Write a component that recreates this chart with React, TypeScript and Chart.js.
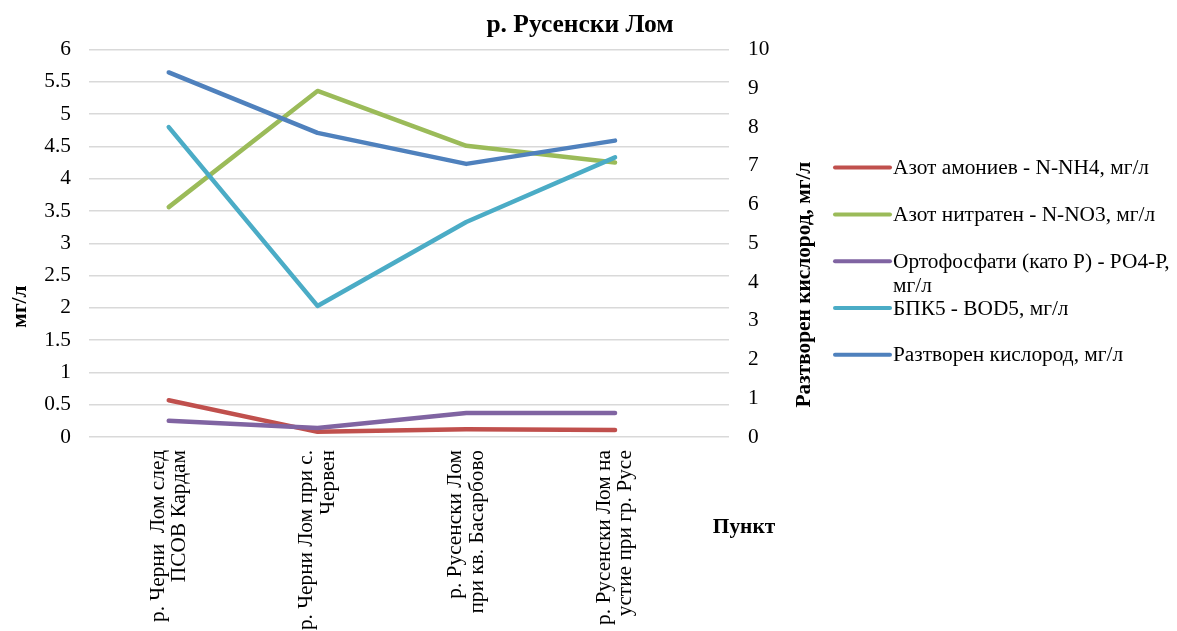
import React, { useEffect, useRef } from 'react';
import { Chart, registerables } from 'chart.js';

Chart.register(...registerables);

const chartTitle = 'р. Русенски Лом';
const stations: string[][] = [
  ['р. Черни  Лом след', 'ПСОВ Кардам'],
  ['р. Черни Лом при с.', 'Червен'],
  ['р. Русенски Лом', 'при кв. Басарбово'],
  ['р. Русенски Лом на', 'устие при гр. Русе'],
];
const ammonium = [0.57, 0.08, 0.12, 0.11];
const nitrate = [3.56, 5.36, 4.51, 4.25];
const phosphate = [0.25, 0.14, 0.37, 0.37];
const bod5 = [4.8, 2.03, 3.33, 4.33];
const oxygen = [9.41, 7.85, 7.05, 7.65];

const seriesNames = [
  'Азот амониев - N-NH4, мг/л',
  'Азот нитратен - N-NO3, мг/л',
  'Ортофосфати (като Р) - РО4-Р,\nмг/л',
  'БПК5 - BOD5, мг/л',
  'Разтворен кислород, мг/л',
];
const seriesColors = ['#C0504D', '#9BBB59', '#8064A2', '#4BACC6', '#4F81BD'];
const leftAxisTitle = 'мг/л';
const rightAxisTitle = 'Разтворен кислород, мг/л';
const xAxisTitle = 'Пункт';

const FONT = "'Liberation Serif', 'Times New Roman', serif";
const FS = 21.33;
const LABEL_LH = 1.0;
// shift so that the two-line rotated category labels are centred on their point
const LABEL_SHIFT = (FS * LABEL_LH) / 2 / 148.8;

const toPoints = (vals: number[]) => vals.map((v, i) => ({ x: i, y: v }));

const overlayPlugin = {
  id: 'overlay',
  afterDraw(chart: any) {
    const { ctx, chartArea } = chart;
    const ca = chartArea;
    ctx.save();
    ctx.fillStyle = '#000';
    ctx.font = `bold ${FS}px ${FONT}`;
    ctx.textAlign = 'center';
    ctx.textBaseline = 'middle';
    ctx.save();
    ctx.translate(20, ca.top + 257);
    ctx.rotate(-Math.PI / 2);
    ctx.fillText(leftAxisTitle, 0, 0);
    ctx.restore();
    ctx.save();
    ctx.translate(ca.right + 75, ca.top + 235);
    ctx.rotate(-Math.PI / 2);
    ctx.fillText(rightAxisTitle, 0, 0);
    ctx.restore();
    ctx.fillText(xAxisTitle, ca.right + 15, ca.bottom + 90);

    const x0 = ca.right + 106;
    const x1 = ca.right + 161;
    const tx = ca.right + 164;
    const y0 = ca.top + 118;
    const step = 46.8;
    ctx.font = `${FS}px ${FONT}`;
    ctx.textAlign = 'left';
    chart.data.datasets.forEach((ds: any, i: number) => {
      const y = y0 + i * step;
      ctx.strokeStyle = ds.borderColor;
      ctx.lineWidth = 4;
      ctx.lineCap = 'round';
      ctx.beginPath();
      ctx.moveTo(x0, y);
      ctx.lineTo(x1, y);
      ctx.stroke();
      const lines = String(ds.label).split('\n');
      lines.forEach((ln: string, j: number) => {
        ctx.fillText(ln, tx, y + 1 + j * 24);
      });
    });
    ctx.restore();
  },
};

export default function App() {
  const ref = useRef<HTMLCanvasElement>(null);
  useEffect(() => {
    if (!ref.current) return;
    const series = [ammonium, nitrate, phosphate, bod5, oxygen];
    const chart = new Chart(ref.current, {
      type: 'line',
      data: {
        datasets: series.map((vals, i) => ({
          label: seriesNames[i],
          data: toPoints(vals),
          borderColor: seriesColors[i],
          backgroundColor: seriesColors[i],
          borderWidth: 4.5,
          borderCapStyle: 'round',
          borderJoinStyle: 'round',
          pointRadius: 0,
          pointHoverRadius: 0,
          tension: 0,
          yAxisID: i === 4 ? 'y1' : 'y',
          order: 5 - i,
        })),
      },
      options: {
        animation: false,
        responsive: false,
        layout: { padding: { left: 0, right: 17, top: 0, bottom: 0 } },
        plugins: {
          legend: { display: false },
          tooltip: { enabled: false },
          title: {
            display: true,
            text: chartTitle,
            color: '#000',
            font: { family: FONT, size: 25.5, weight: 'bold', lineHeight: 1.2 },
            padding: { top: 10, bottom: 9 },
          },
        },
        scales: {
          x: {
            type: 'linear',
            min: -0.536,
            max: 3.766,
            grid: { display: false, drawTicks: false },
            border: { display: false },
            afterFit: (s: any) => {
              s.height = 194;
            },
            afterBuildTicks: (s: any) => {
              s.ticks = stations.map((_, i) => ({ value: i - LABEL_SHIFT }));
            },
            ticks: {
              autoSkip: false,
              includeBounds: false,
              minRotation: 90,
              maxRotation: 90,
              padding: 13,
              color: '#000',
              font: { family: FONT, size: FS, lineHeight: LABEL_LH },
              callback: (v: any) => stations[Math.round(v as number)] ?? '',
            },
          },
          y: {
            position: 'left',
            min: 0,
            max: 6,
            grid: { color: '#D9D9D9', lineWidth: 1.5, drawTicks: false },
            border: { display: false },
            afterFit: (s: any) => {
              s.width = 89;
            },
            ticks: {
              stepSize: 0.5,
              padding: 18,
              color: '#000',
              font: { family: FONT, size: FS },
              callback: (v: any) => String(Math.round((v as number) * 10) / 10),
            },
          },
          y1: {
            position: 'right',
            min: 0,
            max: 10,
            grid: { display: false, drawTicks: false },
            border: { display: false },
            afterFit: (s: any) => {
              s.width = 431;
            },
            ticks: {
              stepSize: 1,
              padding: 19,
              color: '#000',
              font: { family: FONT, size: FS },
            },
          },
        },
      },
      plugins: [overlayPlugin],
    } as any);
    return () => chart.destroy();
  }, []);
  return (
    <div style={{ position: 'fixed', left: 0, top: 0, width: 1177, height: 631, background: '#fff' }}>
      <canvas ref={ref} width={1177} height={631} style={{ display: 'block' }} />
    </div>
  );
}
